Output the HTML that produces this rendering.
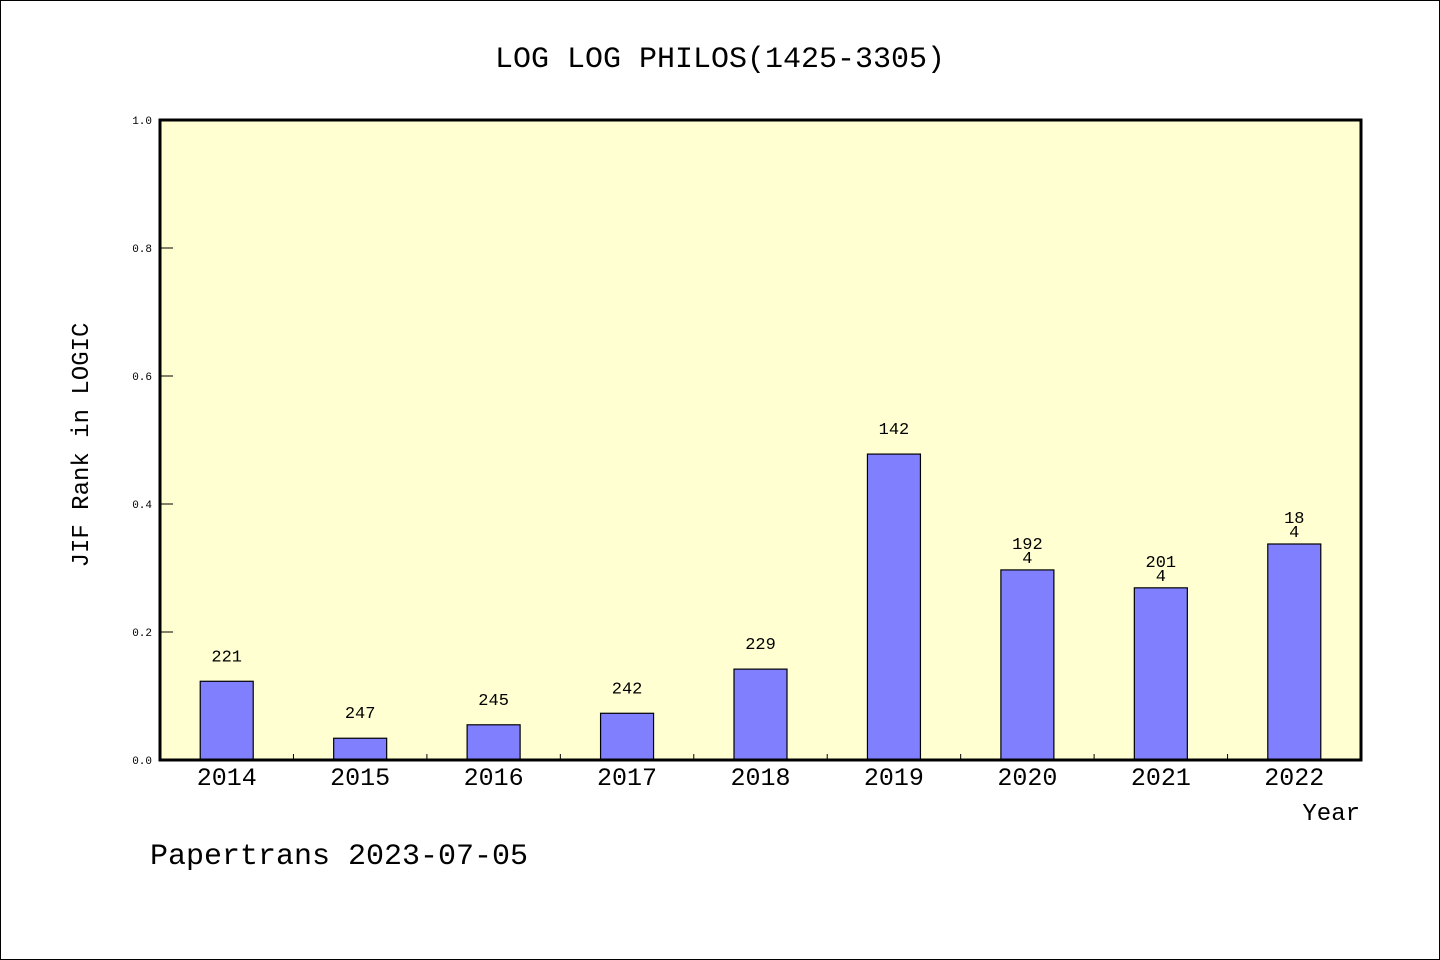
<!DOCTYPE html>
<html><head><meta charset="utf-8"><style>
body{margin:0;background:#fff}
svg{display:block}
text{font-family:"Liberation Mono","WenQuanYi Zen Hei",monospace;fill:#000}
</style></head><body>
<svg id="c" width="1440" height="960">
<rect x="0.5" y="0.5" width="1439" height="959" fill="#fff" stroke="#000"/>
<text x="720" y="67" font-size="30" text-anchor="middle">LOG LOG PHILOS(1425-3305)</text>
<rect x="160" y="120" width="1201" height="640" fill="#ffffd2"/>
<g id="bars"></g>
<g id="ticks"></g>
<rect x="160" y="120" width="1201" height="640" fill="none" stroke="#000" stroke-width="3"/>
<text transform="translate(88,445) rotate(-90)" font-size="24" text-anchor="middle">JIF Rank in LOGIC</text>
<text x="1360" y="820" font-size="24" text-anchor="end">Year</text>
<text x="150" y="864" font-size="30">Papertrans 2023-07-05</text>
</svg>
<script>
const categories=["2014","2015","2016","2017","2018","2019","2020","2021","2022"];
const values=[0.123,0.034,0.055,0.073,0.142,0.478,0.297,0.269,0.3375];
const labels=[["221"],["247"],["245"],["242"],["229"],["142"],["192","4"],["201","4"],["18","4"]];
const yTicks=[0,0.2,0.4,0.6,0.8,1.0];
const tickLabels=["0.0","0.2","0.4","0.6","0.8","1.0"];
const NS="http://www.w3.org/2000/svg";
const X0=160,X1=1361,Y0=760,Y1=120;
const band=(X1-X0)/categories.length;
const xc=i=>X0+band*(i+0.5);
const y=v=>Y0-(v/1)*(Y0-Y1);
function mk(t,a,p){const e=document.createElementNS(NS,t);for(const k in a)e.setAttribute(k,a[k]);p.appendChild(e);return e;}
const bars=document.getElementById('bars'),ticks=document.getElementById('ticks');
categories.forEach((c,i)=>{
 const r=mk('rect',{x:xc(i)-26.5,y:y(values[i]),width:53,height:Y0-y(values[i]),fill:'#8080ff',stroke:'#000','stroke-width':1.2},bars);
 
 
 const lab=labels[i];
 lab.forEach((s,j)=>{
  const t=mk('text',{x:xc(i),y:y(values[i])-(lab.length===1?20:21)+j*14,'font-size':17,'text-anchor':'middle'},bars);
  t.textContent=s;
  
  
 });
 const xl=mk('text',{x:xc(i),y:785,'font-size':25,'text-anchor':'middle'},ticks);
 xl.textContent=c;
 
 
 if(i>0){const l=mk('line',{x1:X0+band*i,x2:X0+band*i,y1:Y0,y2:Y0-6,stroke:'#000'},ticks);
 
 }
});
yTicks.forEach((v,i)=>{
 const l=mk('line',{x1:X0,x2:X0+13,y1:y(v),y2:y(v),stroke:'#000'},ticks);
 
 
 const t=mk('text',{x:X0-8,y:y(v)+4,'font-size':11,'text-anchor':'end'},ticks);
 t.textContent=tickLabels[i];
 
 
});
</script>
</body></html>
